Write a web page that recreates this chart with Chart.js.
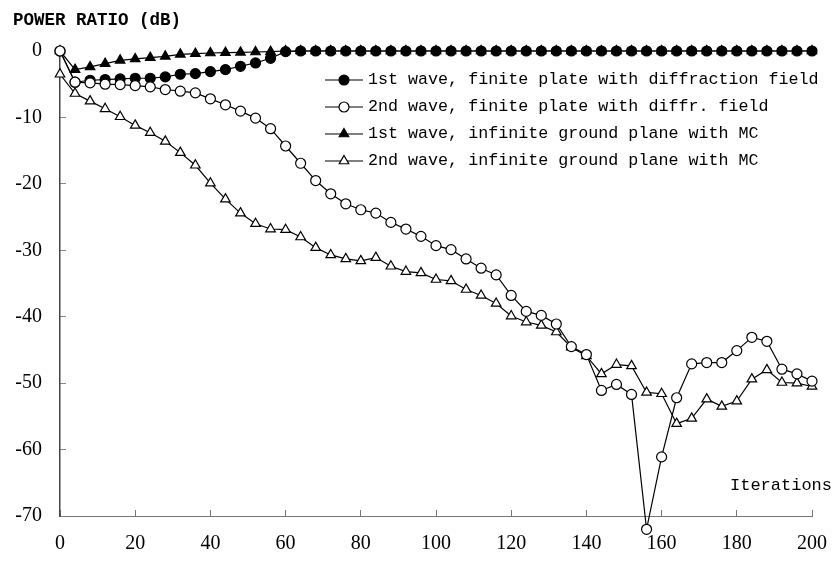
<!DOCTYPE html>
<html><head><meta charset="utf-8">
<script src="https://cdn.jsdelivr.net/npm/chart.js@4/dist/chart.umd.min.js"></script>
<style>html,body{margin:0;padding:0;background:#fff}</style>
</head><body>
<canvas id="c" width="833" height="561"></canvas>
<script>
const iterations = [0,4,8,12,16,20,24,28,32,36,40,44,48,52,56,60,64,68,72,76,80,84,88,92,96,100,104,108,112,116,120,124,128,132,136,140,144,148,152,156,160,164,168,172,176,180,184,188,192,196,200];
const wave1Finite = [0,-4.7,-4.4,-4.3,-4.2,-4.1,-4.1,-3.9,-3.5,-3.4,-3.1,-2.8,-2.3,-1.8,-1.1,-0.1,
  0,0,0,0,0,0,0,0,0,0,0,0,0,0,0,0,0,0,0,0,0,0,0,0,0,0,0,0,0,0,0,0,0,0,0];
const wave2Finite = [0,-4.7,-4.8,-5.0,-5.05,-5.2,-5.4,-5.8,-6.05,-6.3,-7.2,-8.1,-9.05,-10.1,-11.7,-14.3,-16.9,-19.5,-21.5,-23.0,-23.9,-24.4,-25.8,-26.8,-27.9,-29.3,-29.9,-31.3,-32.7,-33.7,-36.8,-39.2,-39.8,-41.1,-44.5,-45.7,-51.1,-50.2,-51.7,-72.0,-61.1,-52.2,-47.1,-46.9,-46.9,-45.1,-43.1,-43.7,-47.9,-48.6,-49.7];
const wave1Infinite = [0,-2.8,-2.4,-1.9,-1.4,-1.2,-1.0,-0.8,-0.5,-0.4,-0.3,-0.25,-0.2,-0.15,-0.1,
  0,0,0,0,0,0,0,0,0,0,0,0,0,0,0,0,0,0,0,0,0,0,0,0,0,0,0,0,0,0,0,0,0,0,0,0];
const wave2Infinite = [-3.5,-6.4,-7.55,-8.7,-9.9,-11.2,-12.3,-13.6,-15.3,-17.2,-19.9,-22.3,-24.4,-26.0,-26.8,-26.9,-28.0,-29.6,-30.7,-31.3,-31.6,-31.1,-32.4,-33.2,-33.4,-34.4,-34.6,-35.9,-36.8,-38.0,-39.9,-40.8,-41.3,-42.3,-44.6,-45.9,-48.6,-47.2,-47.4,-51.4,-51.6,-56.1,-55.3,-52.4,-53.5,-52.7,-49.4,-48.0,-49.9,-50.0,-50.5];
const seriesLabels = [
  "1st wave, finite plate with diffraction field",
  "2nd wave, finite plate with diffr. field",
  "1st wave, infinite ground plane with MC",
  "2nd wave, infinite ground plane with MC"
];
const yTitle = "POWER RATIO (dB)";
const xTitle = "Iterations";

const pts = arr => iterations.map((x, i) => ({x: x, y: arr[i]}));
function ds(label, arr, style, fill, r, order) {
  return {
    label: label, data: pts(arr), order: order,
    borderColor: '#000', borderWidth: 1.2,
    pointStyle: style, pointRadius: r, pointHoverRadius: r,
    pointBackgroundColor: fill, pointBorderColor: '#000', pointBorderWidth: 1.2,
    tension: 0, clip: false, fill: false
  };
}

// draw point markers that fall outside the chart area (Chart.js skips them)
const outsidePoints = {
  id: 'outsidePoints',
  afterDatasetDraw(chart, args) {
    const a = chart.chartArea;
    const ctx = chart.ctx;
    args.meta.data.forEach(el => {
      if (el.x < a.left - 1 || el.x > a.right + 1 || el.y < a.top - 1 || el.y > a.bottom + 1) {
        el.draw(ctx);
      }
    });
  }
};

const annot = {
  id: 'annot',
  afterDraw(chart) {
    const ctx = chart.ctx;
    ctx.save();
    ctx.fillStyle = '#000';
    ctx.textAlign = 'left';
    ctx.textBaseline = 'middle';
    ctx.font = 'bold 17.5px "Liberation Mono"';
    ctx.fillText(yTitle, 13, 21);
    ctx.font = '17px "Liberation Mono"';
    ctx.fillText(xTitle, 730, 485);
    chart.data.datasets.forEach((d, i) => {
      const y = 80 + i * 27;
      ctx.strokeStyle = '#000';
      ctx.lineWidth = 1.2;
      ctx.beginPath(); ctx.moveTo(325, y); ctx.lineTo(363, y); ctx.stroke();
      ctx.fillStyle = d.pointBackgroundColor;
      ctx.strokeStyle = '#000';
      Chart.helpers.drawPoint(ctx, {pointStyle: d.pointStyle, radius: d.pointRadius, borderWidth: d.pointBorderWidth, rotation: 0}, 344, y);
      ctx.fillStyle = '#000';
      ctx.font = '16.7px "Liberation Mono"';
      ctx.fillText(d.label, 368, y);
    });
    ctx.restore();
  }
};

new Chart(document.getElementById('c'), {
  type: 'line',
  data: {
    datasets: [
      ds(seriesLabels[0], wave1Finite, 'circle', '#000', 5, 1),
      ds(seriesLabels[1], wave2Finite, 'circle', '#fff', 5, 0),
      ds(seriesLabels[2], wave1Infinite, 'triangle', '#000', 5.5, 2),
      ds(seriesLabels[3], wave2Infinite, 'triangle', '#fff', 5.5, 3)
    ]
  },
  options: {
    responsive: false, animation: false, devicePixelRatio: 1,
    layout: {padding: {top: 51, right: 21, left: 0, bottom: 0}},
    plugins: {legend: {display: false}, tooltip: {enabled: false}, title: {display: false}},
    scales: {
      x: {
        type: 'linear', min: 0, max: 200,
        afterFit: s => { s.height = 45; s.paddingRight = 0; s.paddingLeft = 0; },
        ticks: {stepSize: 20, padding: 22, color: '#000', font: {family: 'Liberation Serif', size: 20}},
        grid: {drawOnChartArea: false, drawTicks: true, tickLength: -6, color: '#777'},
        border: {display: true, color: '#777', width: 1}
      },
      y: {
        min: -70, max: 0,
        afterFit: s => { s.width = 60; s.paddingTop = 0; s.paddingBottom = 0; },
        ticks: {stepSize: 10, padding: 24, color: '#000', font: {family: 'Liberation Serif', size: 20}},
        grid: {drawOnChartArea: false, drawTicks: true, tickLength: -6, color: '#888'},
        border: {display: true, color: '#444', width: 1.5}
      }
    }
  },
  plugins: [outsidePoints, annot]
});
</script>
</body></html>
